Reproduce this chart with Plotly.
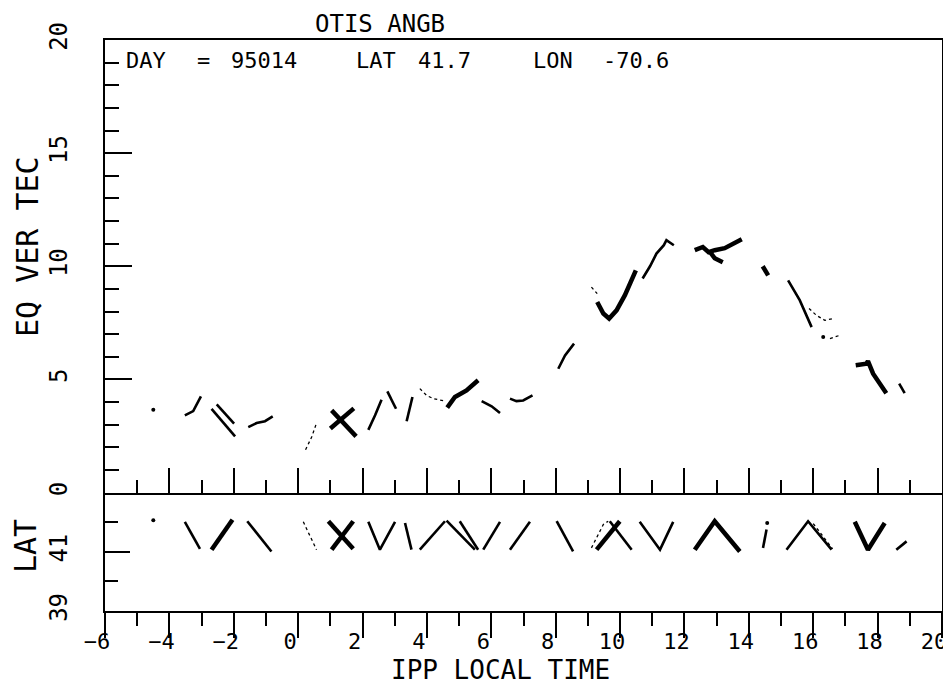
import plotly.graph_objects as go

# ---------------- data ----------------
# EQ VER TEC segments (None separates passes)
tec_time_thick = [1.04, 1.80, None,
                  1.00, 1.73, None,
                  4.63, 4.87, 5.23, 5.59, None,
                  9.29, 9.48, 9.66, 9.89, 10.15, 10.49, None,
                  12.32, 12.57, 12.75, 12.94, 13.25, 13.50, 13.78, None,
                  12.80, 12.94, 13.19, None,
                  14.43, 14.60, None,
                  17.32, 17.65, 17.70, 17.86, 18.27]
tec_value_thick = [3.63, 2.48, None,
                   2.83, 3.72, None,
                   3.75, 4.22, 4.51, 4.96, None,
                   8.42, 7.91, 7.69, 8.05, 8.72, 9.82, None,
                   10.71, 10.85, 10.62, 10.71, 10.80, 11.00, 11.19, None,
                   10.62, 10.35, 10.18, None,
                   10.00, 9.60, None,
                   5.62, 5.69, 5.81, 5.25, 4.39]

tec_time_medium = [-3.52, -3.26, -3.02, None,
                   -2.69, -1.96, None,
                   -2.53, -1.99, None,
                   -1.55, -1.29, -1.03, -0.79, None,
                   2.18, 2.39, 2.59, None,
                   2.77, 3.04, None,
                   3.37, 3.55, None,
                   5.70, 6.01, 6.27, None,
                   6.58, 6.78, 6.99, 7.28, None,
                   8.08, 8.29, 8.57, None,
                   10.70, 10.93, 11.13, 11.36, 11.44, 11.67, None,
                   15.22, 15.58, 15.95, None,
                   18.67, 18.84]
tec_value_medium = [3.41, 3.60, 4.25, None,
                    3.70, 2.48, None,
                    3.89, 3.04, None,
                    2.89, 3.07, 3.15, 3.36, None,
                    2.77, 3.41, 4.10, None,
                    4.47, 3.70, None,
                    3.15, 4.22, None,
                    4.04, 3.81, 3.51, None,
                    4.15, 4.04, 4.07, 4.29, None,
                    5.47, 6.06, 6.58, None,
                    9.46, 10.00, 10.56, 10.93, 11.15, 10.93, None,
                    9.38, 8.50, 7.31, None,
                    4.81, 4.39]

tec_time_thin = [0.23, 0.42, 0.57, None,
                 3.78, 3.99, 4.20, 4.56, None,
                 9.11, 9.29, None,
                 15.87, 16.10, 16.36, 16.62, None,
                 16.52, 16.83]
tec_value_thin = [1.89, 2.45, 3.07, None,
                  4.59, 4.29, 4.15, 4.04, None,
                  9.08, 8.79, None,
                  8.13, 7.83, 7.61, 7.69, None,
                  6.80, 6.95]

tec_time_dots = [-4.50, 16.31]
tec_value_dots = [3.66, 6.87]

# IPP latitude segments
lat_time_thick = [-2.69, -2.04, None,
                  0.94, 1.71, None,
                  1.04, 1.71, None,
                  9.27, 9.99, None,
                  12.32, 12.94, 13.72, None,
                  17.29, 17.70, 18.22]
lat_value_thick = [41.07, 42.08, None,
                   42.03, 41.10, None,
                   41.07, 42.03, None,
                   41.07, 42.03, None,
                   41.07, 42.03, 41.01, None,
                   42.01, 41.07, 41.97]

lat_time_medium = [-3.52, -3.05, None,
                   -1.58, -0.83, None,
                   2.18, 2.54, 3.01, None,
                   3.32, 3.52, None,
                   3.78, 4.56, None,
                   4.61, 5.49, None,
                   5.02, 5.59, None,
                   5.75, 6.27, None,
                   6.58, 7.20, None,
                   8.03, 8.54, None,
                   9.68, 10.36, None,
                   10.61, 11.24, 11.65, None,
                   14.44, 14.55, None,
                   15.17, 15.84, 16.57, None,
                   18.58, 18.90]
lat_value_medium = [42.01, 41.10, None,
                    42.03, 41.01, None,
                    42.01, 41.07, 42.01, None,
                    41.97, 41.07, None,
                    41.07, 42.03, None,
                    42.05, 41.07, None,
                    42.03, 41.07, None,
                    41.07, 42.01, None,
                    41.07, 42.01, None,
                    42.03, 41.01, None,
                    42.03, 41.07, None,
                    42.01, 41.07, 42.01, None,
                    41.13, 41.75, None,
                    41.07, 42.03, 41.07, None,
                    41.07, 41.35]

lat_time_thin = [0.16, 0.57, None,
                 9.11, 9.48, 9.63, None,
                 16.00, 16.60]
lat_value_thin = [42.01, 41.07, None,
                  41.13, 41.92, 42.03, None,
                  41.95, 41.10]

lat_time_dots = [-4.50, 14.57]
lat_value_dots = [42.06, 41.97]

x_tick_vals = [-6, -4, -2, 0, 2, 4, 6, 8, 10, 12, 14, 16, 18, 20]
lat_tick_vals = [39, 41]
lat_tick_text = ["39", "41"]

# ---------------- figure ----------------
FONT = "DejaVu Sans Mono"
OFF = 8                      # default page body margin
W, H = 951 - OFF, 685 - OFF
L, R, T, B = 105 - OFF, 9, 40 - OFF, 685 - 611
PW, PH = W - L - R, H - T - B
split = 118.5 / PH

fig = go.Figure()

def add(xs, ys, ax, width=None, dash="solid", dots=False):
    if dots:
        fig.add_trace(go.Scatter(x=xs, y=ys, mode="markers",
                                 marker=dict(color="black", size=4),
                                 xaxis=ax[0], yaxis=ax[1], showlegend=False,
                                 hoverinfo="skip"))
    else:
        fig.add_trace(go.Scatter(x=xs, y=ys, mode="lines",
                                 line=dict(color="black", width=width, dash=dash),
                                 xaxis=ax[0], yaxis=ax[1], showlegend=False,
                                 hoverinfo="skip"))

top = ("x", "y")
bot = ("x2", "y2")
add(tec_time_thick, tec_value_thick, top, 4.5)
add(tec_time_medium, tec_value_medium, top, 2.6)
add(tec_time_thin, tec_value_thin, top, 1.3, "dot")
add(tec_time_dots, tec_value_dots, top, dots=True)
add(lat_time_thick, lat_value_thick, bot, 4.5)
add(lat_time_medium, lat_value_medium, bot, 2.6)
add(lat_time_thin, lat_value_thin, bot, 1.3, "dot")
add(lat_time_dots, lat_value_dots, bot, dots=True)

axis_common = dict(showline=True, linecolor="black", linewidth=2,
                   showgrid=False, zeroline=False, tickcolor="black", tickwidth=2,
                   automargin=False, ticklabeloverflow="allow")

fig.update_layout(
    width=W, height=H,
    margin=dict(l=L, r=R, t=T, b=B, autoexpand=False),
    paper_bgcolor="white", plot_bgcolor="white",
    xaxis=dict(domain=[0, 1], range=[-6, 20], anchor="y", mirror=True,
               ticks="inside", ticklen=25, tickvals=x_tick_vals,
               minor=dict(ticks="inside", ticklen=13, dtick=1, tick0=-6,
                          tickcolor="black", tickwidth=2),
               showticklabels=False, **axis_common),
    yaxis=dict(domain=[split, 1], range=[0, 20], anchor="x", mirror=True,
               ticks="inside", ticklen=27, dtick=5, tick0=0,
               minor=dict(ticks="inside", ticklen=14, dtick=1,
                          tickcolor="black", tickwidth=2),
               tickangle=-90, ticklabelstandoff=26,
               tickfont=dict(family=FONT, size=24, color="black"),
               **axis_common),
    xaxis2=dict(domain=[0, 1], range=[-6, 20], anchor="y2", mirror=False,
                ticks="outside", ticklen=25, tickvals=x_tick_vals,
                minor=dict(ticks="outside", ticklen=13, dtick=1, tick0=-6,
                           tickcolor="black", tickwidth=2),
                ticklabelstandoff=-15, ticklabelshift=-8,
                tickfont=dict(family=FONT, size=22, color="black"),
                **axis_common),
    yaxis2=dict(domain=[0, split], range=[39, 43], anchor="x2", mirror=True,
                ticks="inside", ticklen=25, tickvals=lat_tick_vals,
                ticktext=lat_tick_text,
                minor=dict(ticks="inside", ticklen=13, dtick=1,
                           tickcolor="black", tickwidth=2),
                tickangle=-90, ticklabelstandoff=26,
                tickfont=dict(family=FONT, size=24, color="black"),
                **axis_common),
)

def px_to_paper(px, py):
    # px, py are page pixels of the 951x685 view
    return (px - OFF - L) / PW, (T + PH - (py - OFF)) / PH

annots = []
def add_text(text, px, py, size, angle=0, xanchor="center"):
    xp, yp = px_to_paper(px, py)
    annots.append(dict(text=text, x=xp, y=yp, xref="paper", yref="paper",
                       xanchor=xanchor, yanchor="middle", showarrow=False,
                       textangle=angle,
                       font=dict(family=FONT, size=size, color="black")))

add_text("OTIS ANGB", 380, 24, 24)
add_text("EQ VER TEC", 27, 247, 30, angle=-90)
add_text("LAT", 25, 546, 30, angle=-90)
add_text("IPP LOCAL TIME", 500, 670, 26)
add_text("DAY", 124, 60, 22, xanchor="left")
add_text("=", 203, 60, 22)
add_text("95014", 229, 60, 22, xanchor="left")
add_text("LAT", 354, 60, 22, xanchor="left")
add_text("41.7", 416, 60, 22, xanchor="left")
add_text("LON", 531, 60, 22, xanchor="left")
add_text("-70.6", 601, 60, 22, xanchor="left")

fig.update_layout(annotations=annots)

fig.write_html("out.html")
